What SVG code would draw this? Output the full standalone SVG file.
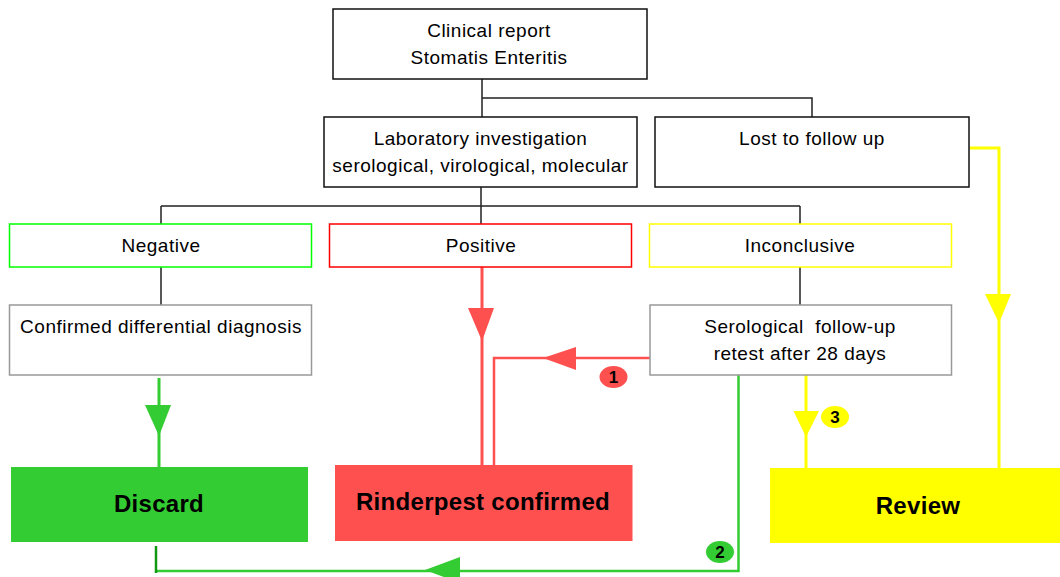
<svg xmlns="http://www.w3.org/2000/svg" width="1060" height="577" viewBox="0 0 1060 577">
<style>
.t{font-family:"Liberation Sans",Arial,sans-serif;font-size:19px;letter-spacing:0.5px;fill:#000;text-anchor:middle}
.b{font-family:"Liberation Sans",Arial,sans-serif;font-size:24px;font-weight:bold;letter-spacing:0.3px;fill:#000;text-anchor:middle}
.n{font-family:"Liberation Sans",Arial,sans-serif;font-size:17px;font-weight:bold;fill:#000;text-anchor:middle}
.k{fill:#fff;stroke:#111;stroke-width:1.5}
.g{fill:#fff;stroke:#999;stroke-width:1.5}
.c{fill:none;stroke:#222;stroke-width:1.5}
</style>
<g id="connectors">
<path class="c" d="M482 79V98M482 98H812V117M482 98V117"/>
<path class="c" d="M481 187V224M161 206H800M161 206V224M800 206V224"/>
<path class="c" d="M161 267V305M800 267V305"/>
<path d="M482 267V465" fill="none" stroke="#ff5050" stroke-width="3"/>
<polygon points="468,308 494,308 482,341" fill="#ff5050"/>
<path d="M494 465V358H650" fill="none" stroke="#ff5050" stroke-width="2.5"/>
<polygon points="543,358 576,347 576,370" fill="#ff5050"/>
<path d="M159 378V467" fill="none" stroke="#33cc33" stroke-width="3"/>
<polygon points="145,405 171,405 159,436" fill="#33cc33"/>
<path d="M738.5 375V571H157" fill="none" stroke="#33cc33" stroke-width="2.5"/>
<path d="M156 546V573" fill="none" stroke="#119911" stroke-width="2.5"/>
<polygon points="425,570 460,557 460,583" fill="#33cc33"/>
<path d="M806 375V468" fill="none" stroke="#ffff00" stroke-width="3"/>
<polygon points="793.5,411 819,411 806,437" fill="#ffff00"/>
<path d="M970 148H999V468" fill="none" stroke="#ffff00" stroke-width="3"/>
<polygon points="985,294 1011,294 999,323" fill="#ffff00"/>
</g>
<g id="badge1"><ellipse cx="613.5" cy="377" rx="14" ry="11" fill="#ff5050"/><text class="n" x="613.5" y="383">1</text></g>
<g id="badge2"><ellipse cx="720" cy="552" rx="14" ry="11" fill="#33cc33"/><text class="n" x="720" y="558">2</text></g>
<g id="badge3"><ellipse cx="835" cy="417" rx="14" ry="11" fill="#ffff00"/><text class="n" x="835" y="423">3</text></g>
<g id="clinical"><rect class="k" x="333" y="9" width="314" height="70"/><text class="t" x="489" y="37">Clinical report</text><text class="t" x="489" y="64">Stomatis Enteritis</text></g>
<g id="lab"><rect class="k" x="324" y="117" width="313" height="70"/><text class="t" x="480.5" y="145">Laboratory investigation</text><text class="t" x="480.5" y="172">serological, virological, molecular</text></g>
<g id="lost"><rect class="k" x="655" y="117" width="314" height="70"/><text class="t" x="812" y="145">Lost to follow up</text></g>
<g id="negative"><rect x="9.5" y="224" width="302" height="43" fill="#fff" stroke="#00ff00" stroke-width="1.5"/><text class="t" x="161" y="252">Negative</text></g>
<g id="positive"><rect x="329.5" y="224" width="302" height="43" fill="#fff" stroke="#ff0000" stroke-width="1.5"/><text class="t" x="481" y="252">Positive</text></g>
<g id="inconclusive"><rect x="649.5" y="224" width="302" height="43" fill="#fff" stroke="#ffff00" stroke-width="1.5"/><text class="t" x="800" y="252">Inconclusive</text></g>
<g id="confirmed"><rect class="g" x="9.5" y="305" width="302" height="70"/><text class="t" x="161" y="333">Confirmed differential diagnosis</text></g>
<g id="serological"><rect class="g" x="650" y="305" width="301.5" height="70"/><text class="t" x="800" y="333" xml:space="preserve">Serological  follow-up</text><text class="t" x="800" y="360">retest after 28 days</text></g>
<g id="discard"><rect x="11" y="467" width="297" height="75" fill="#33cc33"/><text class="b" x="159" y="512">Discard</text></g>
<g id="rinderpest"><rect x="335" y="465" width="297.5" height="76" fill="#ff5050"/><text class="b" x="483" y="510">Rinderpest confirmed</text></g>
<g id="review"><rect x="770" y="468" width="290" height="75" fill="#ffff00"/><text class="b" x="918" y="514">Review</text></g>
</svg>
